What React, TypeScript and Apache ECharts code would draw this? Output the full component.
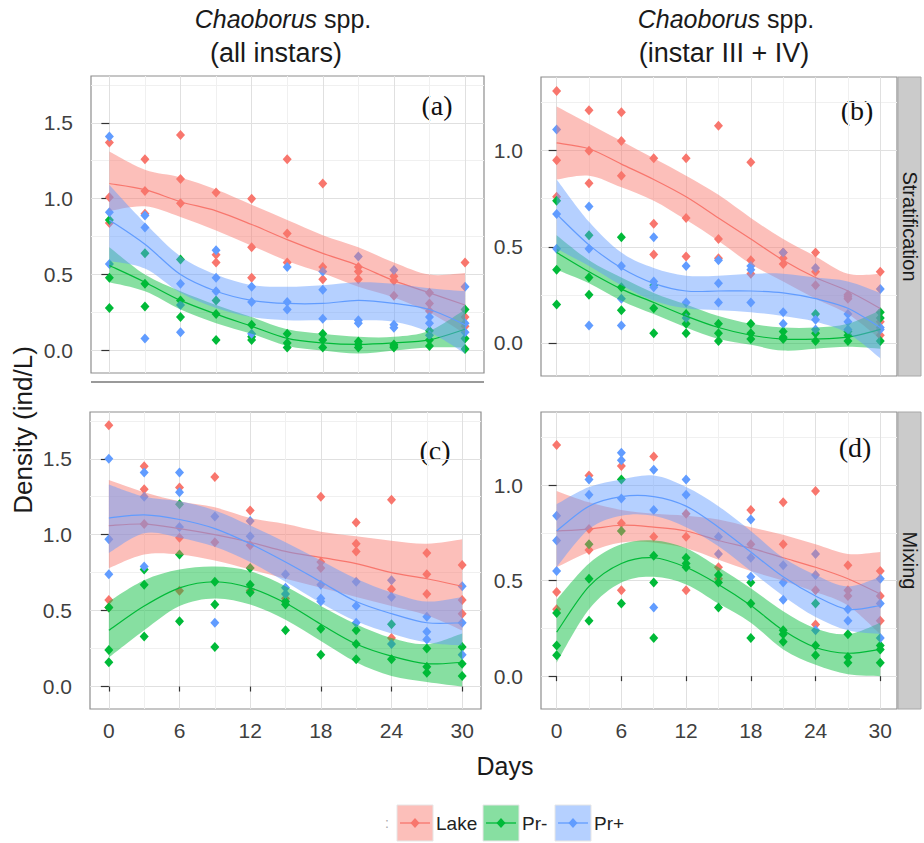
import React, { useEffect, useRef } from "react";
import * as echarts from "echarts";

const FONT = "'Liberation Sans', Arial, Helvetica, sans-serif";
const SERIF = "'Liberation Serif', 'Times New Roman', serif";

const days = [0, 3, 6, 9, 12, 15, 18, 21, 24, 27, 30];
const groupNames = ["Lake", "Pr-", "Pr+"];
const groupColors = ["#F8766D", "#00BA38", "#619CFF"];
const ribbonColors = ["rgba(248,118,109,0.47)", "rgba(0,186,56,0.47)", "rgba(97,156,255,0.47)"];

const xTicks = [0, 6, 12, 18, 24, 30];
const xMinor = [3, 9, 15, 21, 27];
const yTicksLeft = [0, 0.5, 1.0, 1.5];
const yMinorLeft = [0.25, 0.75, 1.25, 1.75];
const yTicksRight = [0, 0.5, 1.0];
const yMinorRight = [0.25, 0.75, 1.25];

const columnTitles = ["(all instars)", "(instar III + IV)"];
const rowStrips = ["Stratification", "Mixing"];
const panelLabels = ["(a)", "(b)", "(c)", "(d)"];

// ---------- (a) all instars, stratification: replicate values per day ----------
const lakePtsA = [[1.37, 1.01, 0.84], [1.26, 1.05, 0.9], [1.42, 1.13, 0.97], [1.04, 0.63, 0.58], [1.0, 0.68, 0.48], [1.26, 0.77, 0.58], [1.1, 0.55, 0.47], [0.55, 0.52, 0.47], [0.49, 0.46, 0.36], [0.38, 0.31, 0.26], [0.58, 0.22, 0.16]];
const minusPtsA = [[0.86, 0.48, 0.28], [0.64, 0.44, 0.29], [0.6, 0.33, 0.22], [0.33, 0.24, 0.07], [0.17, 0.09, 0.07], [0.11, 0.05, 0.02], [0.11, 0.07, 0.02], [0.06, 0.04, 0.02], [0.04, 0.03, 0.02], [0.13, 0.07, 0.03], [0.27, 0.08, 0.01]];
const plusPtsA = [[1.41, 0.91, 0.57], [0.89, 0.81, 0.08], [0.44, 0.3, 0.12], [0.66, 0.48, 0.39], [0.42, 0.32, 0.11], [0.55, 0.32, 0.27], [0.52, 0.4, 0.21], [0.62, 0.2, 0.18], [0.53, 0.17, 0.15], [0.22, 0.18, 0.1], [0.42, 0.18, 0.12]];
const fitLakeA = [1.1, 1.06, 0.98, 0.92, 0.83, 0.73, 0.64, 0.56, 0.46, 0.38, 0.3];
const hiLakeA = [1.31, 1.19, 1.14, 1.06, 0.96, 0.86, 0.76, 0.68, 0.58, 0.5, 0.51];
const loLakeA = [0.92, 0.95, 0.88, 0.79, 0.69, 0.59, 0.51, 0.42, 0.35, 0.25, 0.11];
const fitMinusA = [0.56, 0.45, 0.33, 0.24, 0.16, 0.08, 0.05, 0.04, 0.05, 0.07, 0.14];
const hiMinusA = [0.68, 0.5, 0.39, 0.3, 0.22, 0.14, 0.11, 0.09, 0.09, 0.13, 0.27];
const loMinusA = [0.45, 0.39, 0.27, 0.18, 0.11, 0.03, 0.0, -0.02, 0.0, 0.02, 0.02];
const fitPlusA = [0.86, 0.7, 0.5, 0.39, 0.33, 0.31, 0.31, 0.33, 0.31, 0.27, 0.17];
const hiPlusA = [1.09, 0.84, 0.62, 0.5, 0.43, 0.42, 0.43, 0.45, 0.44, 0.41, 0.39];
const loPlusA = [0.59, 0.54, 0.38, 0.28, 0.22, 0.2, 0.2, 0.2, 0.19, 0.12, -0.02];

// ---------- (b) instar III + IV, stratification ----------
const lakePtsB = [[1.31, 0.95, 0.76], [1.21, 1.0, 0.83], [1.2, 1.05, 0.87], [0.96, 0.62, 0.46], [0.96, 0.65, 0.45], [1.13, 0.54, 0.44], [0.94, 0.43, 0.36], [0.47, 0.44, 0.41], [0.47, 0.37, 0.3], [0.25, 0.24, 0.23], [0.37, 0.11, 0.04]];
const minusPtsB = [[0.74, 0.38, 0.2], [0.56, 0.34, 0.25], [0.55, 0.29, 0.17], [0.3, 0.18, 0.05], [0.15, 0.1, 0.05], [0.1, 0.05, 0.01], [0.1, 0.05, 0.02], [0.06, 0.03, 0.02], [0.15, 0.05, 0.01], [0.06, 0.04, 0.01], [0.16, 0.13, 0.01]];
const plusPtsB = [[1.11, 0.67, 0.49], [0.71, 0.49, 0.09], [0.4, 0.23, 0.09], [0.55, 0.32, 0.29], [0.4, 0.21, 0.13], [0.43, 0.31, 0.21], [0.4, 0.38, 0.21], [0.47, 0.16, 0.1], [0.39, 0.12, 0.07], [0.15, 0.11, 0.07], [0.28, 0.08, 0.07]];
const fitLakeB = [1.04, 1.01, 0.93, 0.85, 0.76, 0.65, 0.54, 0.43, 0.34, 0.27, 0.18];
const hiLakeB = [1.23, 1.14, 1.05, 0.96, 0.87, 0.77, 0.65, 0.54, 0.45, 0.36, 0.36];
const loLakeB = [0.85, 0.87, 0.81, 0.74, 0.64, 0.53, 0.41, 0.32, 0.23, 0.15, 0.02];
const fitMinusB = [0.47, 0.37, 0.28, 0.21, 0.14, 0.08, 0.04, 0.02, 0.02, 0.03, 0.07];
const hiMinusB = [0.56, 0.43, 0.34, 0.26, 0.2, 0.14, 0.1, 0.08, 0.08, 0.1, 0.17];
const loMinusB = [0.38, 0.31, 0.22, 0.15, 0.08, 0.02, -0.01, -0.04, -0.03, -0.02, -0.03];
const fitPlusB = [0.67, 0.51, 0.39, 0.31, 0.27, 0.27, 0.27, 0.26, 0.23, 0.18, 0.08];
const hiPlusB = [0.85, 0.63, 0.47, 0.39, 0.35, 0.35, 0.36, 0.36, 0.34, 0.32, 0.26];
const loPlusB = [0.49, 0.4, 0.3, 0.22, 0.18, 0.17, 0.16, 0.14, 0.11, 0.05, -0.08];

// ---------- (c) all instars, mixing ----------
const lakePtsC = [[1.72, 0.57, 0.52], [1.45, 1.3, 1.07], [1.31, 0.98, 0.63], [1.38, 0.95], [1.16, 0.93, 0.63], [0.58], [1.25, 0.82, 0.78], [1.08, 0.94, 0.89], [1.23, 0.64, 0.32], [0.88, 0.74, 0.61], [0.8, 0.57, 0.48]];
const minusPtsC = [[0.52, 0.24, 0.16], [0.77, 0.67, 0.33], [1.2, 0.87, 0.43], [0.69, 0.54, 0.26], [0.78, 0.67, 0.62], [0.56, 0.54, 0.37], [0.38, 0.21], [0.37, 0.28, 0.18], [0.41, 0.18], [0.25, 0.13, 0.09], [0.26, 0.15, 0.07]];
const plusPtsC = [[1.5, 0.97, 0.74], [1.41, 1.25, 0.79], [1.41, 1.28, 1.05], [1.12, 0.42], [1.09, 0.99], [0.74, 0.65, 0.61], [0.67, 0.58, 0.56], [0.69, 0.53, 0.42], [0.7, 0.59, 0.28], [0.46, 0.36, 0.31], [0.66, 0.42, 0.21]];
const fitLakeC = [1.06, 1.07, 1.04, 1.0, 0.95, 0.89, 0.85, 0.81, 0.75, 0.71, 0.66];
const hiLakeC = [1.36, 1.28, 1.22, 1.18, 1.11, 1.07, 1.02, 0.99, 0.96, 0.94, 0.97];
const loLakeC = [0.78, 0.87, 0.87, 0.83, 0.77, 0.71, 0.65, 0.59, 0.53, 0.47, 0.37];
const fitMinusC = [0.37, 0.53, 0.65, 0.69, 0.65, 0.55, 0.41, 0.28, 0.2, 0.15, 0.16];
const hiMinusC = [0.56, 0.7, 0.77, 0.79, 0.76, 0.66, 0.53, 0.41, 0.32, 0.28, 0.35];
const loMinusC = [0.19, 0.37, 0.53, 0.58, 0.54, 0.44, 0.3, 0.16, 0.07, 0.03, 0.0];
const fitPlusC = [1.11, 1.13, 1.1, 1.04, 0.94, 0.82, 0.69, 0.56, 0.48, 0.42, 0.42];
const hiPlusC = [1.33, 1.25, 1.22, 1.16, 1.06, 0.95, 0.83, 0.71, 0.62, 0.56, 0.59];
const loPlusC = [0.88, 1.01, 0.98, 0.92, 0.82, 0.69, 0.55, 0.43, 0.35, 0.29, 0.27];

// ---------- (d) instar III + IV, mixing ----------
const lakePtsD = [[1.21, 0.44, 0.35], [1.05, 0.77, 0.66], [1.1, 0.8, 0.45], [1.15, 0.73], [0.85, 0.73, 0.45], [0.57, 0.51], [0.87, 0.69], [0.91, 0.69], [0.97, 0.45, 0.27], [0.58, 0.45, 0.42], [0.55, 0.42, 0.29]];
const minusPtsD = [[0.33, 0.16, 0.11], [0.69, 0.51, 0.29], [1.03, 0.76, 0.38], [0.63, 0.49, 0.2], [0.62, 0.59, 0.57], [0.53, 0.49, 0.36], [0.49, 0.38, 0.2], [0.24, 0.22, 0.18], [0.38, 0.16, 0.11], [0.22, 0.1, 0.07], [0.16, 0.14, 0.07]];
const plusPtsD = [[0.84, 0.71, 0.55], [1.03, 0.95], [1.17, 1.13, 0.93], [1.08, 0.87, 0.36], [1.03, 0.95], [0.73, 0.64], [0.82, 0.62, 0.52], [0.58, 0.49, 0.4], [0.64, 0.53, 0.24], [0.35, 0.29], [0.51, 0.38, 0.2]];
const fitLakeD = [0.76, 0.77, 0.79, 0.78, 0.76, 0.71, 0.67, 0.62, 0.57, 0.51, 0.43];
const hiLakeD = [0.97, 0.91, 0.87, 0.85, 0.84, 0.82, 0.78, 0.74, 0.69, 0.64, 0.65];
const loLakeD = [0.57, 0.65, 0.7, 0.7, 0.67, 0.61, 0.55, 0.5, 0.44, 0.37, 0.22];
const fitMinusD = [0.23, 0.47, 0.59, 0.62, 0.57, 0.48, 0.37, 0.24, 0.15, 0.12, 0.14];
const hiMinusD = [0.4, 0.59, 0.69, 0.71, 0.67, 0.57, 0.46, 0.34, 0.25, 0.22, 0.28];
const loMinusD = [0.07, 0.35, 0.49, 0.52, 0.48, 0.38, 0.28, 0.14, 0.06, 0.01, 0.0];
const fitPlusD = [0.76, 0.89, 0.94, 0.94, 0.89, 0.78, 0.65, 0.52, 0.42, 0.35, 0.37];
const hiPlusD = [0.9, 0.99, 1.03, 1.05, 0.99, 0.89, 0.76, 0.62, 0.53, 0.47, 0.52];
const loPlusD = [0.57, 0.77, 0.84, 0.84, 0.78, 0.68, 0.55, 0.42, 0.31, 0.24, 0.22];

const panels = [
  { pts: [lakePtsA, minusPtsA, plusPtsA], fit: [fitLakeA, fitMinusA, fitPlusA], hi: [hiLakeA, hiMinusA, hiPlusA], lo: [loLakeA, loMinusA, loPlusA] },
  { pts: [lakePtsB, minusPtsB, plusPtsB], fit: [fitLakeB, fitMinusB, fitPlusB], hi: [hiLakeB, hiMinusB, hiPlusB], lo: [loLakeB, loMinusB, loPlusB] },
  { pts: [lakePtsC, minusPtsC, plusPtsC], fit: [fitLakeC, fitMinusC, fitPlusC], hi: [hiLakeC, hiMinusC, hiPlusC], lo: [loLakeC, loMinusC, loPlusC] },
  { pts: [lakePtsD, minusPtsD, plusPtsD], fit: [fitLakeD, fitMinusD, fitPlusD], hi: [hiLakeD, hiMinusD, hiPlusD], lo: [loLakeD, loMinusD, loPlusD] },
];

// layout (pixels)
const gridBoxes = [
  { left: 91, top: 76, width: 393, height: 297 },
  { left: 541, top: 77, width: 356, height: 299 },
  { left: 90, top: 412, width: 391, height: 297 },
  { left: 541, top: 412, width: 356, height: 297 },
];
const xRanges = [[-1.55, 31.6], [-1.45, 31.55], [-1.6, 31.6], [-1.45, 31.55]];
const yRangeLeft = [-0.148, 1.808];
const yRangeRight = [-0.172, 1.383];

function crPath(pts: number[][], move: boolean) {
  const f = (v: number) => v.toFixed(2);
  let d = (move ? "M" : "L") + f(pts[0][0]) + "," + f(pts[0][1]);
  for (let i = 0; i < pts.length - 1; i++) {
    const p0 = pts[i - 1] || pts[i];
    const p1 = pts[i];
    const p2 = pts[i + 1];
    const p3 = pts[i + 2] || p2;
    const c1x = p1[0] + (p2[0] - p0[0]) / 6;
    const c1y = p1[1] + (p2[1] - p0[1]) / 6;
    const c2x = p2[0] - (p3[0] - p1[0]) / 6;
    const c2y = p2[1] - (p3[1] - p1[1]) / 6;
    d += "C" + f(c1x) + "," + f(c1y) + "," + f(c2x) + "," + f(c2y) + "," + f(p2[0]) + "," + f(p2[1]);
  }
  return d;
}

function buildOption() {
  const grid = gridBoxes.map((b) => ({
    ...b,
    show: true,
    borderColor: "#8e8e8e",
    borderWidth: 1.2,
    backgroundColor: "#ffffff",
  }));

  const xAxis: any[] = [];
  const yAxis: any[] = [];
  for (let g = 0; g < 4; g++) {
    const bottomRow = g >= 2;
    xAxis.push({
      type: "value",
      gridIndex: g,
      min: xRanges[g][0],
      max: xRanges[g][1],
      position: "bottom",
      axisLine: { show: false },
      axisTick: { show: bottomRow, customValues: xTicks, length: 5, lineStyle: { color: "#333", width: 1.2 } },
      axisLabel: {
        show: bottomRow,
        customValues: xTicks,
        margin: 11,
        fontSize: 21,
        color: "#3f3f3f",
        fontFamily: FONT,
        formatter: (v: number) => String(v),
      },
      splitLine: { show: true, lineStyle: { color: "#e0e0e0", width: 1 } },
    });
  }
  for (let g = 0; g < 4; g++) {
    xAxis.push({
      type: "value",
      gridIndex: g,
      min: xRanges[g][0],
      max: xRanges[g][1],
      axisLine: { show: false },
      axisTick: { show: false, customValues: xMinor },
      axisLabel: { show: false, customValues: xMinor },
      splitLine: { show: true, lineStyle: { color: "#f0f0f0", width: 1 } },
    });
  }
  for (let g = 0; g < 4; g++) {
    const left = g % 2 === 0;
    const r = left ? yRangeLeft : yRangeRight;
    const ticks = left ? yTicksLeft : yTicksRight;
    yAxis.push({
      type: "value",
      gridIndex: g,
      min: r[0],
      max: r[1],
      position: "left",
      axisLine: { show: false },
      axisTick: { show: true, customValues: ticks, length: 8, lineStyle: { color: "#333", width: 1.2 } },
      axisLabel: {
        customValues: ticks,
        margin: 18,
        fontSize: 21,
        color: "#3f3f3f",
        fontFamily: FONT,
        formatter: (v: number) => v.toFixed(1),
      },
      splitLine: { show: true, lineStyle: { color: "#e0e0e0", width: 1 } },
    });
  }
  for (let g = 0; g < 4; g++) {
    const left = g % 2 === 0;
    const r = left ? yRangeLeft : yRangeRight;
    const minor = left ? yMinorLeft : yMinorRight;
    yAxis.push({
      type: "value",
      gridIndex: g,
      min: r[0],
      max: r[1],
      axisLine: { show: false },
      axisTick: { show: false, customValues: minor },
      axisLabel: { show: false, customValues: minor },
      splitLine: { show: true, lineStyle: { color: "#f0f0f0", width: 1 } },
    });
  }

  const series: any[] = [];
  panels.forEach((P, g) => {
    P.pts.forEach((perDay, k) => {
      const data: number[][] = [];
      perDay.forEach((vals, i) => vals.forEach((v) => data.push([days[i], v])));
      series.push({
        type: "scatter",
        name: groupNames[k],
        xAxisIndex: g,
        yAxisIndex: g,
        data,
        symbol: "diamond",
        symbolSize: [9, 10],
        itemStyle: { color: groupColors[k], opacity: 1 },
        z: 2,
        silent: true,
      });
    });
    series.push({
      type: "custom",
      xAxisIndex: g,
      yAxisIndex: g,
      z: 3,
      silent: true,
      clip: false,
      data: groupNames.map((_, k) => [k, 0]),
      renderItem: (params: any, api: any) => {
        const k = params.dataIndex;
        const up = days.map((d, i) => api.coord([d, P.hi[k][i]]));
        const dn = days.map((d, i) => api.coord([d, P.lo[k][i]])).reverse();
        const mid = days.map((d, i) => api.coord([d, P.fit[k][i]]));
        return {
          type: "group",
          children: [
            {
              type: "path",
              shape: { pathData: crPath(up, true) + crPath(dn, false) + "Z" },
              style: { fill: ribbonColors[k], stroke: "none" },
            },
            {
              type: "path",
              shape: { pathData: crPath(mid, true) },
              style: { fill: "none", stroke: groupColors[k], lineWidth: 1.2 },
            },
          ],
        };
      },
    });
  });

  const graphic: any[] = [];
  // column titles
  const titleX = [283, 726];
  titleX.forEach((x, c) => {
    graphic.push({
      type: "text",
      x,
      y: 19,
      style: {
        text: "{i|Chaoborus} spp.",
        rich: { i: { fontStyle: "italic", fontSize: 25, fontFamily: FONT, fill: "#1a1a1a" } },
        fontSize: 25,
        fontFamily: FONT,
        fill: "#1a1a1a",
        align: "center",
        verticalAlign: "middle",
      },
    });
    graphic.push({
      type: "text",
      x: c === 0 ? 276 : 724,
      y: 53,
      style: { text: columnTitles[c], fontSize: 27, fontFamily: FONT, fill: "#1a1a1a", align: "center", verticalAlign: "middle" },
    });
  });
  // strips on the right
  const stripBoxes = [gridBoxes[1], gridBoxes[3]];
  stripBoxes.forEach((b, r) => {
    graphic.push({
      type: "rect",
      shape: { x: b.left + b.width + 1, y: b.top, width: 23, height: b.height },
      style: { fill: "#cbcbcb", stroke: "#a8a8a8", lineWidth: 1 },
    });
    graphic.push({
      type: "text",
      x: b.left + b.width + 12.5,
      y: b.top + b.height / 2,
      rotation: -Math.PI / 2,
      style: { text: rowStrips[r], fontSize: 20, fontFamily: FONT, fill: "#1a1a1a", align: "center", verticalAlign: "middle" },
    });
  });
  // panel letters
  const letterPos = [[437, 105], [857, 110], [435, 450], [855, 447]];
  letterPos.forEach((p, i) => {
    graphic.push({
      type: "text",
      x: p[0],
      y: p[1],
      style: { text: panelLabels[i], fontSize: 28, fontFamily: SERIF, fill: "#111", align: "center", verticalAlign: "middle" },
    });
  });
  // separator line under panel (a)
  graphic.push({ type: "line", shape: { x1: 91, y1: 382, x2: 484, y2: 382 }, style: { stroke: "#9a9a9a", lineWidth: 2 } });
  // axis titles
  graphic.push({
    type: "text",
    x: 23,
    y: 430,
    rotation: Math.PI / 2,
    style: { text: "Density (ind/L)", fontSize: 26, fontFamily: FONT, fill: "#1a1a1a", align: "center", verticalAlign: "middle" },
  });
  graphic.push({
    type: "text",
    x: 505,
    y: 766,
    style: { text: "Days", fontSize: 25, fontFamily: FONT, fill: "#1a1a1a", align: "center", verticalAlign: "middle" },
  });
  // legend
  graphic.push({ type: "text", x: 387, y: 823, style: { text: ":", fontSize: 14, fontFamily: FONT, fill: "#aaa", align: "center", verticalAlign: "middle" } });
  const keyX = [397, 483, 555];
  const labX = [436, 522, 594];
  keyX.forEach((kx, k) => {
    const cy = 823;
    graphic.push({ type: "rect", shape: { x: kx, y: cy - 18, width: 36, height: 36 }, style: { fill: ribbonColors[k], stroke: "#e6e6e6", lineWidth: 1 } });
    graphic.push({ type: "line", shape: { x1: kx + 3, y1: cy, x2: kx + 33, y2: cy }, style: { stroke: groupColors[k], lineWidth: 1.3 } });
    graphic.push({
      type: "polygon",
      shape: { points: [[kx + 18, cy - 5], [kx + 22.5, cy], [kx + 18, cy + 5], [kx + 13.5, cy]] },
      style: { fill: groupColors[k] },
    });
    graphic.push({
      type: "text",
      x: labX[k],
      y: cy,
      style: { text: groupNames[k], fontSize: 19, fontFamily: FONT, fill: "#222", align: "left", verticalAlign: "middle" },
    });
  });

  return {
    animation: false,
    backgroundColor: "#ffffff",
    textStyle: { fontFamily: FONT },
    grid,
    xAxis,
    yAxis,
    series,
    graphic,
  };
}

export default function App() {
  const ref = useRef<HTMLDivElement>(null);
  useEffect(() => {
    if (!ref.current) return;
    const chart = echarts.init(ref.current, undefined, { renderer: "svg" });
    chart.setOption(buildOption() as any);
    return () => chart.dispose();
  }, []);
  return (
    <div
      ref={ref}
      style={{ position: "absolute", left: 0, top: 0, width: 924, height: 843, background: "#fff" }}
    />
  );
}
